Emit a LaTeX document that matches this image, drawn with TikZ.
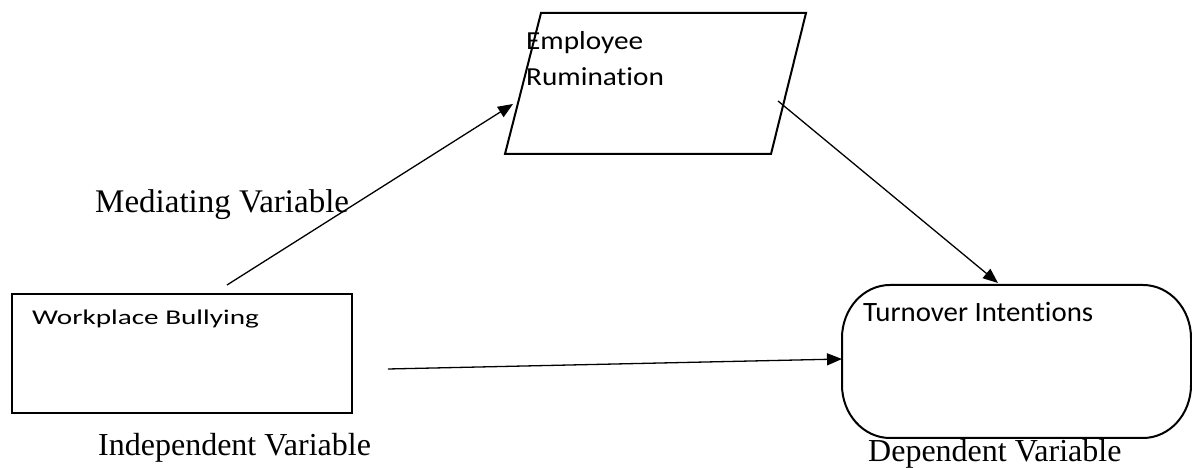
\documentclass[tikz,border=0pt]{standalone}
\usepackage{fontspec}
\setmainfont{Liberation Serif}
\newfontfamily\calibri[Ligatures=NoCommon]{Carlito}
\usetikzlibrary{arrows.meta}
\tikzset{
  shapeline/.style={draw=black, line width=2pt},
  conn/.style={draw=black, line width=1.3pt, -{Triangle[length=15pt,width=12pt]}},
  boxtext/.style={anchor=base west, inner sep=0pt, font=\calibri},
  captext/.style={anchor=base west, inner sep=0pt, font=\fontsize{32}{38}\selectfont},
}
\begin{document}
\begin{tikzpicture}[x=1pt,y=1pt]
\useasboundingbox[fill=white] (0,0) rectangle (1192,468);
% shapes
\draw[shapeline] (541,455) -- (806,455) -- (771,314) -- (505,314) -- cycle;
\draw[shapeline] (12,55) rectangle (352,174);
\draw[shapeline] (890,183) -- (1143,183)
  arc[start angle=90,end angle=0,x radius=48,y radius=53] -- (1191,83)
  arc[start angle=0,end angle=-90,x radius=48,y radius=53] -- (890,30)
  arc[start angle=270,end angle=180,x radius=48,y radius=53] -- (842,130)
  arc[start angle=180,end angle=90,x radius=48,y radius=53] -- cycle;
% texts inside shapes
\node[boxtext] (emp) at (526,418) {\fontsize{26}{31}\selectfont\scalebox{1.125}[1]{Employee}};
\node[boxtext] (rum) at (526,382) {\fontsize{26}{31}\selectfont\scalebox{1.125}[1]{Rumination}};
\node[boxtext] (wb) at (32,143) {\fontsize{21}{25}\selectfont\scalebox{1.39}[1]{Workplace Bullying}};
\node[boxtext] (ti) at (863,146) {\fontsize{28}{33}\selectfont\scalebox{1.03}[1]{Turnover Intentions}};
% captions
\node[captext, font=\fontsize{33}{40}\selectfont] (med) at (95,255) {Mediating Variable};
\node[captext] (ind) at (98,12) {Independent Variable};
\node[captext] (dep) at (868,6) {Dependent Variable};
% connector ends
\coordinate (a1s) at (227,183);
\coordinate (a1e) at (513,364);
\coordinate (a2s) at (778,367);
\coordinate (a2e) at (998,185);
\coordinate (a3s) at (388,99);
\coordinate (a3e) at (842,109);
\draw[conn] (a1s) -- (a1e);
\draw[conn] (a2s) -- (a2e);
\draw[conn] (a3s) -- (a3e);
\end{tikzpicture}
\end{document}
